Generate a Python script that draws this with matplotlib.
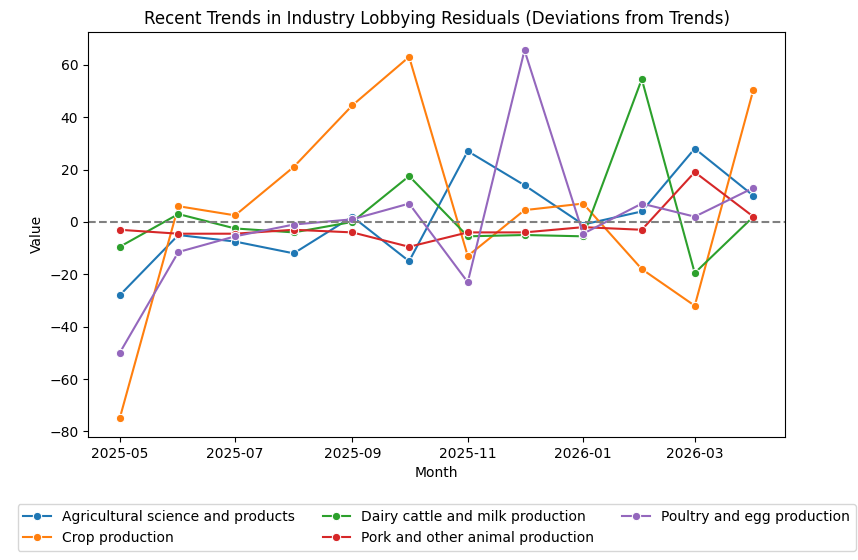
import matplotlib
matplotlib.use("Agg")
import matplotlib.pyplot as plt
import pandas as pd
import seaborn as sns

months = pd.date_range("2025-05-01", periods=12, freq="MS")
agri = [-28, -5, -7.5, -12, 2, -15, 27, 14, -1, 4, 28, 10]
crop = [-75, 6, 2.5, 21, 44.5, 63, -13, 4.5, 7, -18, -32, 50.5]
dairy = [-9.5, 3, -2.5, -4, 0, 17.5, -5.5, -5, -5.5, 54.5, -19.5, 2]
pork = [-3, -4.5, -4.5, -3, -4, -9.5, -4, -4, -2, -3, 19, 2]
poultry = [-50, -11.5, -5.5, -1, 1, 7, -23, 65.5, -4.5, 7, 2, 13]
series = {
    "Agricultural science and products": agri,
    "Crop production": crop,
    "Dairy cattle and milk production": dairy,
    "Pork and other animal production": pork,
    "Poultry and egg production": poultry,
}
rows = []
for k, v in series.items():
    for m, y in zip(months, v):
        rows.append({"Month": m, "Value": y, "Industry": k})
df = pd.DataFrame(rows)

fig = plt.figure(figsize=(8.58, 5.6), dpi=100)
ax = fig.add_axes([0.1026, 0.22, 0.8124, 0.723])
sns.lineplot(data=df, x="Month", y="Value", hue="Industry", marker="o", ax=ax)
ax.axhline(0, color="gray", linestyle="--")
ax.set_title("Recent Trends in Industry Lobbying Residuals (Deviations from Trends)")
import matplotlib.dates as mdates
ax.xaxis.set_major_locator(mdates.MonthLocator(bymonth=[1, 3, 5, 7, 9, 11]))
ax.xaxis.set_major_formatter(mdates.DateFormatter("%Y-%m"))
ax.legend(loc="upper center", bbox_to_anchor=(0.5, -0.15), ncol=3)
fig.savefig("out.png", dpi=100)
